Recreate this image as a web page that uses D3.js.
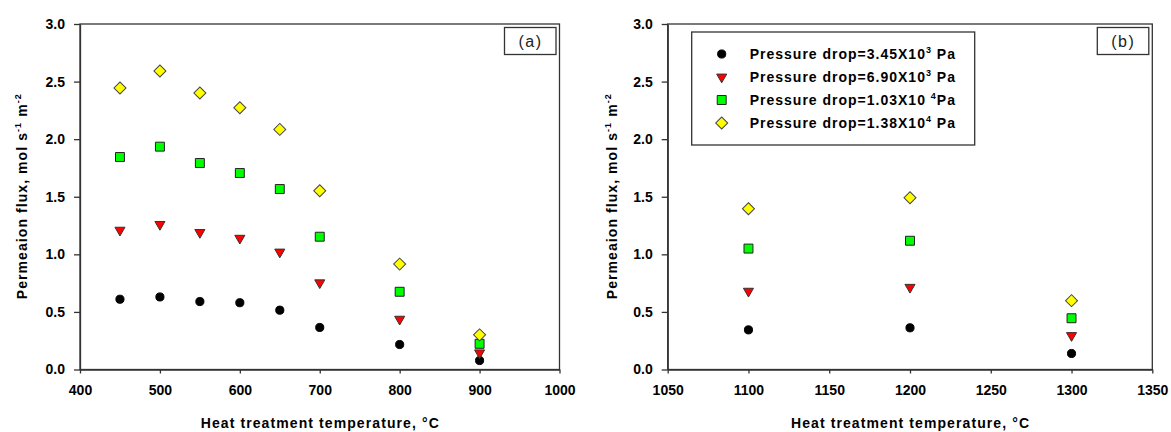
<!DOCTYPE html>
<html>
	<head>
		<title>Permeation flux vs heat treatment</title>
		<script src="https://d3js.org/d3.v7.min.js" charset="utf-8"></script>
		<style>
			body{
				margin: 0;
				background: white;
				font-family: "Liberation Sans", Arial, sans-serif;
			}
			.tick text{
				font-family: "Liberation Sans", Arial, sans-serif;
				font-size: 14px;
				font-weight: bold;
				fill: #000;
			}
			.domain, .tick line{
				stroke: #333;
				stroke-width: 1.3;
			}
		</style>
	</head>
	<body>
		<script>
			// data
			var tempA = [450, 500, 550, 600, 650, 700, 800, 900];
			var tempB = [1100, 1200, 1300];

			var drop1A = [0.61, 0.63, 0.59, 0.58, 0.515, 0.365, 0.217, 0.078];
			var drop2A = [1.21, 1.26, 1.19, 1.14, 1.02, 0.753, 0.437, 0.145];
			var drop3A = [1.845, 1.935, 1.793, 1.706, 1.567, 1.153, 0.675, 0.223];
			var drop4A = [2.444, 2.592, 2.401, 2.273, 2.085, 1.552, 0.915, 0.301];

			var drop1B = [0.344, 0.362, 0.139];
			var drop2B = [0.68, 0.714, 0.295];
			var drop3B = [1.05, 1.118, 0.445];
			var drop4B = [1.396, 1.491, 0.598];

			var yTicks = [0, 0.5, 1.0, 1.5, 2.0, 2.5, 3.0];
			var xTicksA = [400, 500, 600, 700, 800, 900, 1000];
			var xTicksB = [1050, 1100, 1150, 1200, 1250, 1300, 1350];

			var seriesNames = [
				["Pressure drop=3.45X10", "3", " Pa"],
				["Pressure drop=6.90X10", "3", " Pa"],
				["Pressure drop=1.03X10 ", "4", "Pa"],
				["Pressure drop=1.38X10", "4", " Pa"]
			];

			var width = 1171;
			var height = 432;

			var svg = d3.select("body")
						.append("svg")
						.attr("width", width)
						.attr("height", height);

			// marker styles per series
			var markers = [
				{type: d3.symbolCircle, size: 52, fill: "#000", stroke: "#000", rot: 0},
				{type: d3.symbolTriangle, size: 44, fill: "#ff0000", stroke: "#333", rot: 180},
				{type: d3.symbolSquare, size: 80, fill: "#00ff00", stroke: "#222", rot: 0},
				{type: d3.symbolSquare, size: 72, fill: "#ffff00", stroke: "#444", rot: 45}
			];

			var panels = [
				{left: 80, right: 559.5, xDomain: [400, 1000], xTicks: xTicksA, temps: tempA,
				 series: [drop1A, drop2A, drop3A, drop4A], tag: "(a)", titleX: 27, legend: false},
				{left: 667.7, right: 1152.3, xDomain: [1050, 1350], xTicks: xTicksB, temps: tempB,
				 series: [drop1B, drop2B, drop3B, drop4B], tag: "(b)", titleX: 617, legend: true}
			];

			var plotTop = 24, plotBottom = 369.5;

			var y = d3.scaleLinear().domain([0, 3]).range([plotBottom, plotTop]);

			panels.forEach(function(p){
				var x = d3.scaleLinear().domain(p.xDomain).range([p.left, p.right]);
				var g = svg.append("g");

				// frame
				g.append("rect")
				 .attr("x", p.left)
				 .attr("y", plotTop)
				 .attr("width", p.right - p.left)
				 .attr("height", plotBottom - plotTop)
				 .attr("fill", "none")
				 .attr("stroke", "#333")
				 .attr("stroke-width", 1.3);

				g.append("g")
				 .attr("transform", "translate(" + p.left + ",0)")
				 .call(d3.axisLeft(y).tickValues(yTicks).tickFormat(d3.format(".1f"))
						 .tickSize(6).tickSizeOuter(0).tickPadding(9));

				g.append("g")
				 .attr("transform", "translate(0," + plotBottom + ")")
				 .call(d3.axisBottom(x).tickValues(p.xTicks).tickFormat(d3.format("d"))
						 .tickSize(4).tickSizeOuter(0).tickPadding(12));

				// y title
				var yt = g.append("text")
						  .attr("transform", "translate(" + p.titleX + "," + ((plotTop + plotBottom) / 2) + ") rotate(-90)")
						  .attr("text-anchor", "middle")
						  .attr("font-size", "14px")
						  .attr("font-weight", "bold")
						  .attr("textLength", 205)
						  .attr("lengthAdjust", "spacing");
				yt.append("tspan").text("Permeaion flux, mol s");
				yt.append("tspan").attr("dy", -6).attr("font-size", "9px").text("-1");
				yt.append("tspan").attr("dy", 6).text(" m");
				yt.append("tspan").attr("dy", -6).attr("font-size", "9px").text("-2");

				// x title
				g.append("text")
				 .attr("x", (p.left + p.right) / 2)
				 .attr("y", 428)
				 .attr("text-anchor", "middle")
				 .attr("font-size", "14px")
				 .attr("font-weight", "bold")
				 .attr("textLength", 238)
				 .attr("lengthAdjust", "spacing")
				 .text("Heat treatment temperature, \u00B0C");

				// panel tag box
				g.append("rect")
				 .attr("x", p.right - 55)
				 .attr("y", plotTop + 3.5)
				 .attr("width", 51.5)
				 .attr("height", 27)
				 .attr("fill", "white")
				 .attr("stroke", "#333")
				 .attr("stroke-width", 1.3);
				g.append("text")
				 .attr("x", p.right - 29)
				 .attr("y", plotTop + 22.5)
				 .attr("text-anchor", "middle")
				 .attr("font-size", "16px")
				 .attr("letter-spacing", "1.5px")
				 .attr("fill", "#222")
				 .text(p.tag);

				// points
				p.series.forEach(function(vals, i){
					var m = markers[i];
					g.append("g").selectAll("path")
					 .data(vals)
					 .enter()
					 .append("path")
					 .attr("d", d3.symbol().type(m.type).size(m.size))
					 .attr("transform", function(d, j){
						return "translate(" + x(p.temps[j]) + "," + y(d) + ") rotate(" + m.rot + ")";
					 })
					 .attr("fill", m.fill)
					 .attr("stroke", m.stroke)
					 .attr("stroke-width", 1);
				});

				if(p.legend){
					var lx = p.left + 24, ly = plotTop + 8;
					var lg = g.append("g");
					lg.append("rect")
					  .attr("x", lx)
					  .attr("y", ly)
					  .attr("width", 283)
					  .attr("height", 113)
					  .attr("fill", "white")
					  .attr("stroke", "#333")
					  .attr("stroke-width", 1.3);
					seriesNames.forEach(function(name, i){
						var m = markers[i];
						var ry = ly + 22 + i * 23;
						lg.append("path")
						  .attr("d", d3.symbol().type(m.type).size(m.size))
						  .attr("transform", "translate(" + (lx + 30) + "," + ry + ") rotate(" + m.rot + ")")
						  .attr("fill", m.fill)
						  .attr("stroke", m.stroke)
						  .attr("stroke-width", 1);
						var t = lg.append("text")
								  .attr("x", lx + 58)
								  .attr("y", ry + 5)
								  .attr("font-size", "14px")
								  .attr("font-weight", "bold")
								  .attr("letter-spacing", "1px");
						t.append("tspan").text(name[0]);
						t.append("tspan").attr("dy", -6).attr("font-size", "9px").text(name[1]);
						t.append("tspan").attr("dy", 6).text(name[2]);
					});
				}
			});
		</script>
	</body>
</html>
